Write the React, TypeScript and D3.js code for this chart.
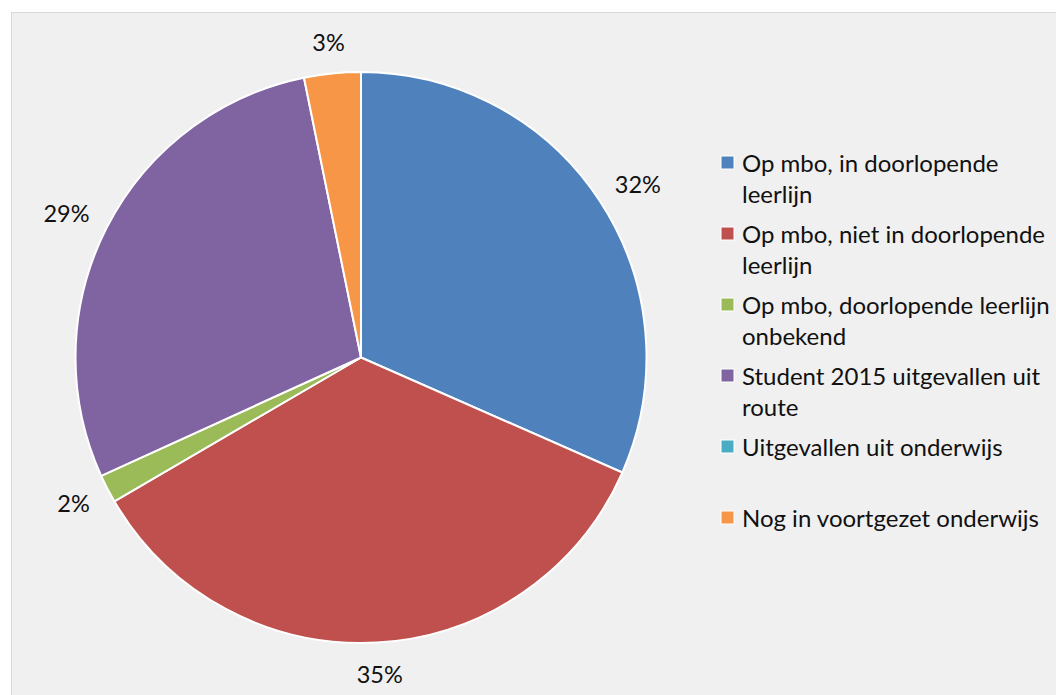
import React, { useEffect, useRef } from 'react'
import * as d3 from 'd3'

const categories = [
  'Op mbo, in doorlopende leerlijn',
  'Op mbo, niet in doorlopende leerlijn',
  'Op mbo, doorlopende leerlijn onbekend',
  'Student 2015 uitgevallen uit route',
  'Uitgevallen uit onderwijs',
  'Nog in voortgezet onderwijs'
]

// legend lines as Excel wraps them
const legendLines = [
  ['Op mbo, in doorlopende', 'leerlijn'],
  ['Op mbo, niet in doorlopende', 'leerlijn'],
  ['Op mbo, doorlopende leerlijn', 'onbekend'],
  ['Student 2015 uitgevallen uit', 'route'],
  ['Uitgevallen uit onderwijs'],
  ['Nog in voortgezet onderwijs']
]

const shares = [31.6, 35.0, 1.6, 28.6, 0, 3.2]

const colors = ['#4f81bd', '#c0504d', '#9bbb59', '#8064a2', '#4bacc6', '#f79646']

interface Slice {
  name: string
  value: number
}

const sliceData: Slice[] = categories.map((c, i) => ({ name: c, value: shares[i] }))

const App: React.FC = () => {
  const svgRef = useRef<SVGSVGElement>(null)

  useEffect(() => {
    if (!svgRef.current) return
    const svg = d3.select(svgRef.current)
    svg.selectAll('*').remove()

    const width = 1056
    const height = 695
    const font = 'Lato, Calibri, sans-serif'

    // chart area (runs past the window on right and bottom)
    svg.append('rect')
      .attr('x', 11.5)
      .attr('y', 12.5)
      .attr('width', width + 20)
      .attr('height', height + 20)
      .attr('fill', '#f0f0f0')
      .attr('stroke', '#d9d9d9')
      .attr('stroke-width', 1)

    const cx = 361
    const cy = 357.5
    const radius = 285.5

    const pie = d3.pie<Slice>().value(d => d.value).sort(null)
    const arcs = pie(sliceData)
    const arc = d3.arc<d3.PieArcDatum<Slice>>().innerRadius(0).outerRadius(radius)

    const g = svg.append('g').attr('transform', `translate(${cx},${cy})`)

    g.selectAll('path.slice')
      .data(arcs.filter(d => d.value > 0))
      .enter()
      .append('path')
      .attr('class', 'slice')
      .attr('d', arc)
      .attr('fill', d => colors[d.index])
      .attr('stroke', '#ffffff')
      .attr('stroke-width', 2)
      .attr('stroke-linejoin', 'round')

    const fmt = d3.format('.0f')

    // data labels outside the slices
    arcs.filter(d => d.value > 0).forEach(d => {
      const a = (d.startAngle + d.endAngle) / 2
      const s = Math.sin(a)
      const c = -Math.cos(a)
      const t = g.append('text')
        .attr('text-anchor', 'middle')
        .attr('dominant-baseline', 'central')
        .style('font-family', font)
        .style('font-size', '23.5px')
        .style('fill', '#111')
        .text(`${fmt(d.data.value)}%`)
      const w = (t.node() as SVGTextElement).getComputedTextLength()
      const h = 20
      const rr = radius + 22
      t.attr('x', rr * s + s * w / 2)
        .attr('y', rr * c + c * h / 2)
    })

    // legend
    const legend = svg.append('g').attr('transform', 'translate(721, 172)')
    const slot = 71
    const lineH = 31
    legendLines.forEach((lines, i) => {
      const item = legend.append('g').attr('transform', `translate(0, ${i * slot})`)
      item.append('rect')
        .attr('x', 0)
        .attr('y', -16)
        .attr('width', 13)
        .attr('height', 13)
        .attr('fill', colors[i])
        .attr('stroke', '#ffffff')
        .attr('stroke-width', 1)
      lines.forEach((ln, j) => {
        item.append('text')
          .attr('x', 21)
          .attr('y', j * lineH)
          .style('font-family', font)
          .style('font-size', '24px')
          .style('fill', '#111')
          .text(ln)
      })
    })
  }, [])

  return (
    <div style={{ position: 'fixed', left: 0, top: 0, width: 1056, height: 695, background: '#fff' }}>
      <svg ref={svgRef} width={1056} height={695} style={{ display: 'block' }}></svg>
    </div>
  )
}

export default App
